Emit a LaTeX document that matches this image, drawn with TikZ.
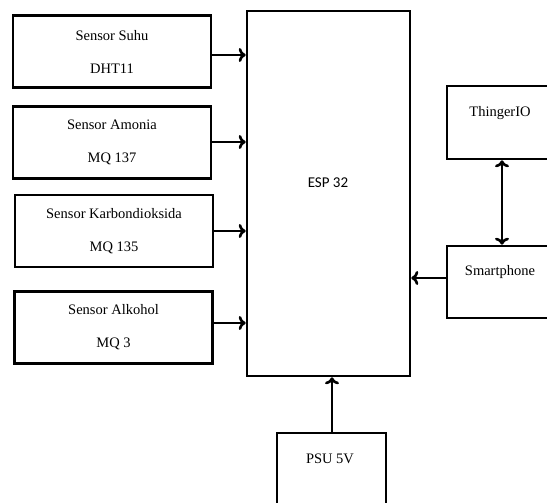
\documentclass[tikz,border=0pt]{standalone}
\usepackage{fontspec}
\setmainfont{Liberation Serif}
\newfontfamily\espfont{Carlito}
\usepackage{tikz}
\usetikzlibrary{arrows.meta}

\begin{document}
\begin{tikzpicture}[x = 1pt, y = -1pt,
  blok/.style = {draw, line width = 2.6pt, minimum width = 198pt, minimum height = 72pt, align = center, font = \fontsize{14.5}{17}\selectfont},
  panah/.style = {line width = 2.6pt, -{To[length = 7pt, width = 14pt, line width = 2.6pt]}},
  panahdua/.style = {line width = 2.6pt, {To[length = 7pt, width = 14pt, line width = 2.6pt]}-{To[length = 7pt, width = 14pt, line width = 2.6pt]}}]
\useasboundingbox (0,0) rectangle (547,503);
\clip (0,0) rectangle (547,503);
% sensor
\node[blok] (suhu) at (112,51.5) {Sensor Suhu\\[16pt]DHT11};
\node[blok] (amonia) at (112,142.5) {Sensor Amonia\\[16pt]MQ 137};
\node[blok] (karbon) at (114,231) {Sensor Karbondioksida\\[16pt]MQ 135};
\node[blok] (alkohol) at (113.5,327.5) {Sensor Alkohol\\[16pt]MQ 3};
% mikrokontroler
\node[blok, minimum width = 163pt, minimum height = 365pt] (esp) at (328.5,193.5) {};
\node[font = \espfont\fontsize{15}{17}\selectfont] (esplabel) at (328,183) {ESP 32};
% sisi kanan
\node[blok, minimum width = 120pt, minimum height = 73pt] (thinger) at (507,122.5) {};
\node[font = \fontsize{14.5}{17}\selectfont] (thingerlabel) at (500,113) {ThingerIO};
\node[blok, minimum width = 120pt, minimum height = 72pt] (hp) at (507,282) {};
\node[font = \fontsize{14.5}{17}\selectfont] (hplabel) at (500,272) {Smartphone};
% catu daya
\node[blok, minimum width = 109pt, minimum height = 90pt] (psu) at (331.5,478) {};
\node[font = \fontsize{14.5}{17}\selectfont] (psulabel) at (330,459) {PSU 5V};
% panah
\draw[panah] (suhu.east |- 0,55) -- (esp.west |- 0,55);
\draw[panah] (amonia.east |- 0,142) -- (esp.west |- 0,142);
\draw[panah] (karbon.east) -- (esp.west |- karbon.east);
\draw[panah] (alkohol.east |- 0,323) -- (esp.west |- 0,323);
\draw[panah] (hp.west |- 0,278) -- (esp.east |- 0,278);
\draw[panahdua] (thinger.south -| 502,0) -- (hp.north -| 502,0);
\draw[panah] (psu.north -| 332,0) -- (esp.south -| 332,0);
\end{tikzpicture}
\end{document}
